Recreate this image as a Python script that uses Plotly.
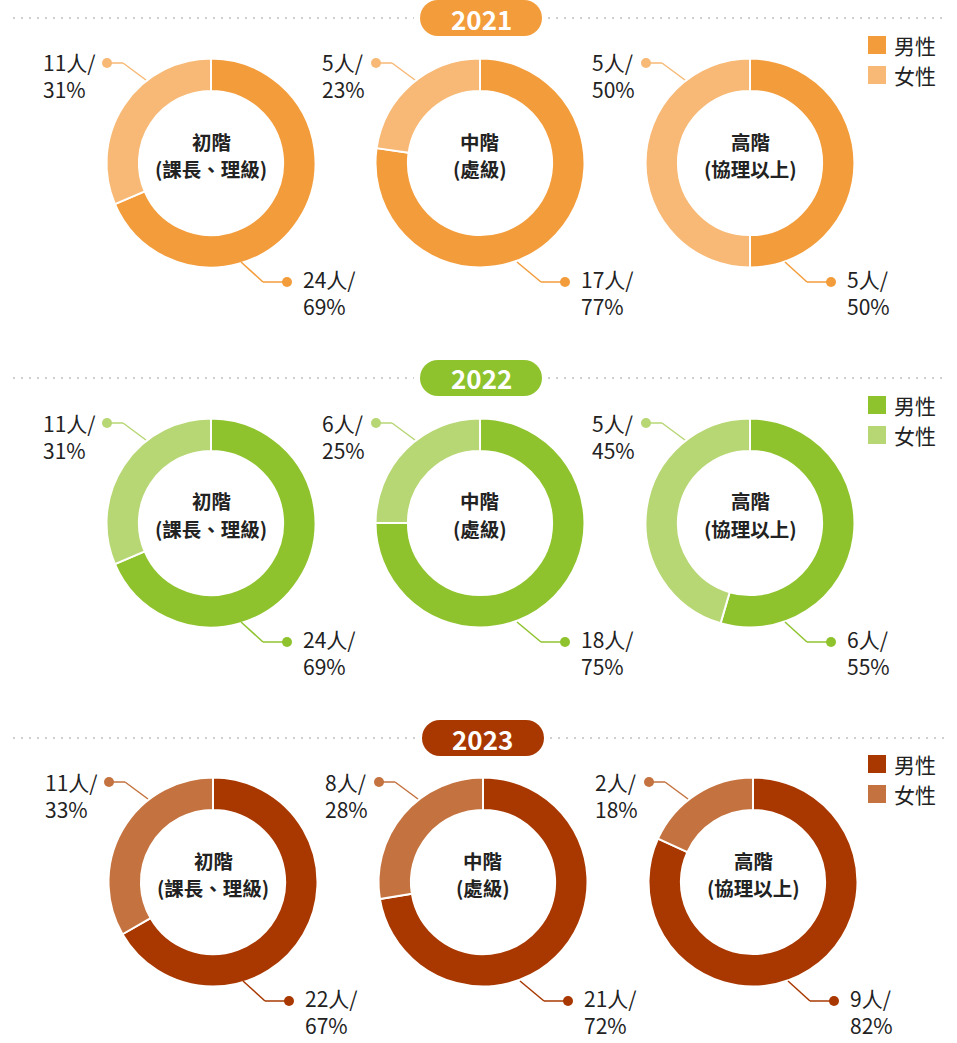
import plotly.graph_objects as go

# ---------------- data ----------------
years = ["2021", "2022", "2023"]
levels = ["初階", "中階", "高階"]
level_notes = ["(課長、理級)", "(處級)", "(協理以上)"]
genders = ["男性", "女性"]

male_2021 = [24, 17, 5]
female_2021 = [11, 5, 5]
male_pct_2021 = [69, 77, 50]
female_pct_2021 = [31, 23, 50]

male_2022 = [24, 18, 6]
female_2022 = [11, 6, 5]
male_pct_2022 = [69, 75, 55]
female_pct_2022 = [31, 25, 45]

male_2023 = [22, 21, 9]
female_2023 = [11, 8, 2]
male_pct_2023 = [67, 72, 82]
female_pct_2023 = [33, 28, 18]

male_counts = [male_2021, male_2022, male_2023]
female_counts = [female_2021, female_2022, female_2023]
male_pcts = [male_pct_2021, male_pct_2022, male_pct_2023]
female_pcts = [female_pct_2021, female_pct_2022, female_pct_2023]

# ---------------- style / layout ----------------
W, H = 957, 1043
FONT = "Noto Sans CJK TC, Noto Sans CJK SC, sans-serif"
TEXT = "#222222"
male_colors = ["#F39C3B", "#8FC32E", "#A83800"]
female_colors = ["#F7B975", "#B7D674", "#C4723F"]

row_cy = [163, 523, 882]
row_cx = [[211, 480, 750], [211, 480, 750], [213, 483, 753]]
badge_c = [(481, 18), (481, 378), (483, 738)]
R_DOM = 104.5
HOLE = 0.69
# per-column offsets of the male (bottom-right) label
male_dot_dx = [76, 85, 81]
male_start_dx = [30, 37, 35]


def px(x):
    return x / W


def py(y):
    return 1 - y / H


fig = go.Figure()
shapes = []
annotations = []

for r in range(3):
    cy = row_cy[r]
    mc, fc = male_colors[r], female_colors[r]
    for c in range(3):
        cx = row_cx[r][c]
        fig.add_trace(go.Pie(
            labels=genders,
            values=[male_counts[r][c], female_counts[r][c]],
            hole=HOLE,
            sort=False,
            direction="clockwise",
            rotation=0,
            textinfo="none",
            hoverinfo="label+value+percent",
            marker=dict(colors=[mc, fc], line=dict(color="white", width=2)),
            domain=dict(x=[px(cx - R_DOM), px(cx + R_DOM)],
                        y=[py(cy + R_DOM), py(cy - R_DOM)]),
            showlegend=False,
        ))
        # centre text (two lines)
        for txt, oy in [(levels[c], -22), (level_notes[c], 5)]:
            annotations.append(dict(
                x=px(cx), y=py(cy + oy), xref="paper", yref="paper",
                text=f"<b>{txt}</b>",
                showarrow=False, xanchor="center", yanchor="middle",
                font=dict(family=FONT, size=19.5, color=TEXT), align="center"))

        # female label (top-left)
        fdx, fdy = -104, -100
        pts = [(cx - 65, cy - 83), (cx - 88, cy + fdy), (cx + fdx, cy + fdy)]
        for (x0, y0), (x1, y1) in zip(pts[:-1], pts[1:]):
            shapes.append(dict(type="line", xref="paper", yref="paper",
                               x0=px(x0), y0=py(y0), x1=px(x1), y1=py(y1),
                               line=dict(color=fc, width=1.5)))
        dx, dy = cx + fdx, cy + fdy
        shapes.append(dict(type="circle", xref="paper", yref="paper",
                           x0=px(dx - 5), x1=px(dx + 5), y0=py(dy + 5), y1=py(dy - 5),
                           fillcolor=fc, line=dict(width=0)))
        annotations.append(dict(
            x=px(dx - 9), y=py(cy - 87), xref="paper", yref="paper",
            text=f"{female_counts[r][c]}人/<br>{female_pcts[r][c]}%",
            showarrow=False, xanchor="right", yanchor="middle", align="left",
            font=dict(family=FONT, size=21, color=TEXT)))

        # male label (bottom-right)
        mdx = male_dot_dx[c]
        pts = [(cx + male_start_dx[c], cy + 99), (cx + mdx - 24, cy + 119), (cx + mdx, cy + 119)]
        for (x0, y0), (x1, y1) in zip(pts[:-1], pts[1:]):
            shapes.append(dict(type="line", xref="paper", yref="paper",
                               x0=px(x0), y0=py(y0), x1=px(x1), y1=py(y1),
                               line=dict(color=mc, width=1.5)))
        dx, dy = cx + mdx, cy + 119
        shapes.append(dict(type="circle", xref="paper", yref="paper",
                           x0=px(dx - 5), x1=px(dx + 5), y0=py(dy + 5), y1=py(dy - 5),
                           fillcolor=mc, line=dict(width=0)))
        annotations.append(dict(
            x=px(dx + 14), y=py(cy + 129), xref="paper", yref="paper",
            text=f"{male_counts[r][c]}人/<br>{male_pcts[r][c]}%",
            showarrow=False, xanchor="left", yanchor="middle", align="left",
            font=dict(family=FONT, size=21, color=TEXT)))

    # dotted separator + year badge
    bx, by = badge_c[r]
    bw, bh = 122, 36
    for x0, x1 in [(13, bx - bw / 2 - 6), (bx + bw / 2 + 6, 945)]:
        shapes.append(dict(type="line", xref="paper", yref="paper",
                           x0=px(x0), x1=px(x1), y0=py(by), y1=py(by),
                           line=dict(color="#CFCFCF", width=2, dash="2px,6px")))
    rr = bh / 2
    shapes.append(dict(type="rect", xref="paper", yref="paper",
                       x0=px(bx - bw / 2 + rr), x1=px(bx + bw / 2 - rr),
                       y0=py(by + rr), y1=py(by - rr), fillcolor=mc, line=dict(width=0)))
    for ex in (bx - bw / 2 + rr, bx + bw / 2 - rr):
        shapes.append(dict(type="circle", xref="paper", yref="paper",
                           x0=px(ex - rr), x1=px(ex + rr),
                           y0=py(by + rr), y1=py(by - rr), fillcolor=mc, line=dict(width=0)))
    annotations.append(dict(
        x=px(bx), y=py(by), xref="paper", yref="paper", text=f"<b>{years[r]}</b>",
        showarrow=False, xanchor="center", yanchor="middle",
        font=dict(family=FONT, size=26, color="white")))

    # legend
    leg_y = [row_cy[r] - 118, row_cy[r] - 88]
    for g, (gy, col) in enumerate(zip(leg_y, [mc, fc])):
        shapes.append(dict(type="rect", xref="paper", yref="paper",
                           x0=px(868), x1=px(886), y0=py(gy + 9), y1=py(gy - 9),
                           fillcolor=col, line=dict(width=0)))
        annotations.append(dict(
            x=px(892), y=py(gy), xref="paper", yref="paper", text=genders[g],
            showarrow=False, xanchor="left", yanchor="middle",
            font=dict(family=FONT, size=21, color=TEXT)))

fig.update_layout(
    width=W, height=H,
    margin=dict(l=0, r=0, t=0, b=0),
    paper_bgcolor="white", plot_bgcolor="white",
    shapes=shapes, annotations=annotations,
    showlegend=False,
)

fig.write_html("out.html", config={"displayModeBar": False},
               post_script="document.body.style.margin='0';")
